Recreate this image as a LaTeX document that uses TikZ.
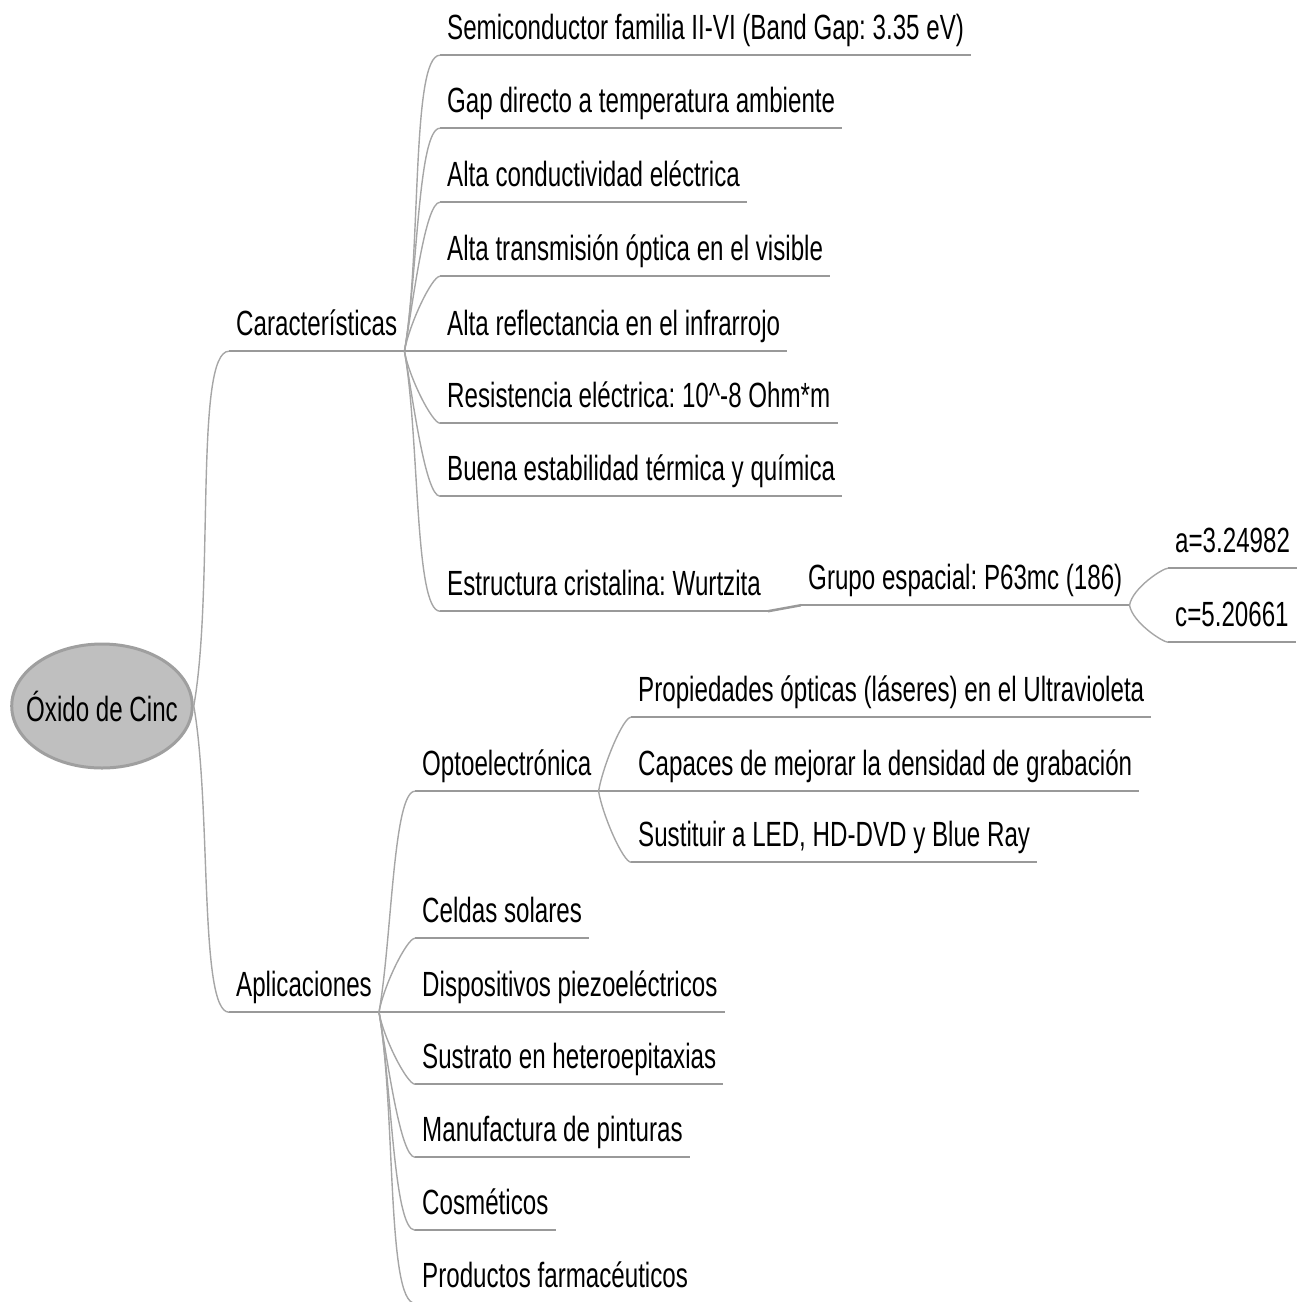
\documentclass[tikz,border=0pt]{standalone}
\usepackage{fontspec}
\setmainfont{Liberation Sans}[FakeStretch=0.69]
\usetikzlibrary{shapes.geometric}
\frenchspacing

\tikzset{
    item/.style={anchor=base west, inner xsep=7pt, inner ysep=0pt, text depth=16pt,
        font=\fontsize{35}{40}\selectfont},
    uline/.style={draw=gray!80, line width=2.5pt},
    branch/.style={draw=gray!70, line width=1.4pt},
    bup/.style={out=80, in=180, out looseness=0.85, in looseness=0.25},
    bdown/.style={out=-80, in=180, out looseness=0.85, in looseness=0.25},
}

\begin{document}
\begin{tikzpicture}[x=1pt, y=1pt]
    \useasboundingbox (0,0) rectangle (1308,-1301);

    % root
    \node[ellipse, draw=gray!75, line width=3pt, fill=gray!50, minimum width=180pt,
        minimum height=124pt, inner xsep=-12pt, inner ysep=0pt,
        font=\fontsize{35}{40}\selectfont]
        (root) at (102,-706) {Óxido de Cinc};

    % main branches
    \node[item] (car) at (229,-335) {Características};
    \node[item] (apl) at (229,-996) {Aplicaciones};

    \foreach \n/\y/\t in {
        c1/39/{Semiconductor familia II-VI (Band Gap: 3.35 eV)},
        c2/112/{Gap directo a temperatura ambiente},
        c3/186/{Alta conductividad eléctrica},
        c4/260/{Alta transmisión óptica en el visible},
        c5/335/{Alta reflectancia en el infrarrojo},
        c6/407/{Resistencia eléctrica: 10\textasciicircum{}-8 Ohm*m},
        c7/480/{Buena estabilidad térmica y química},
        c8/595/{Estructura cristalina: Wurtzita}}
        \node[item] (\n) at (440,-\y) {\t};

    \node[item] (grp) at (801,-589) {Grupo espacial: P63mc (186)};
    \node[item] (la) at (1168,-552) {a=3.24982};
    \node[item] (lc) at (1168,-626) {c=5.20661};

    \node[item] (opt) at (415,-775) {Optoelectrónica};
    \foreach \n/\y/\t in {
        o1/701/{Propiedades ópticas (láseres) en el Ultravioleta},
        o2/775/{Capaces de mejorar la densidad de grabación},
        o3/846/{Sustituir a LED, HD-DVD y Blue Ray}}
        \node[item] (\n) at (631,-\y) {\t};

    \foreach \n/\y/\t in {
        a1/922/{Celdas solares},
        a2/996/{Dispositivos piezoeléctricos},
        a3/1068/{Sustrato en heteroepitaxias},
        a4/1141/{Manufactura de pinturas},
        a5/1214/{Cosméticos},
        a6/1287/{Productos farmacéuticos}}
        \node[item] (\n) at (415,-\y) {\t};

    % underlines
    \foreach \n in {car,apl,c1,c2,c3,c4,c5,c6,c7,c8,grp,la,lc,opt,o1,o2,o3,a1,a2,a3,a4,a5,a6}
        \draw[uline] (\n.south west) -- (\n.south east);

    % connectors
    \draw[branch] (root.east) to[bup] (car.south west);
    \draw[branch] (root.east) to[bdown] (apl.south west);

    \foreach \n in {c1,c2,c3,c4}
        \draw[branch] (car.south east) to[bup] (\n.south west);
    \draw[uline] (car.south east) -- (c5.south west);
    \foreach \n in {c6,c7,c8}
        \draw[branch] (car.south east) to[bdown] (\n.south west);

    \draw[uline] (c8.south east) -- (grp.south west);
    \draw[branch] (grp.south east) to[bup] (la.south west);
    \draw[branch] (grp.south east) to[bdown] (lc.south west);

    \foreach \n in {opt,a1}
        \draw[branch] (apl.south east) to[bup] (\n.south west);
    \draw[uline] (apl.south east) -- (a2.south west);
    \foreach \n in {a3,a4,a5,a6}
        \draw[branch] (apl.south east) to[bdown] (\n.south west);

    \draw[branch] (opt.south east) to[bup] (o1.south west);
    \draw[uline] (opt.south east) -- (o2.south west);
    \draw[branch] (opt.south east) to[bdown] (o3.south west);
\end{tikzpicture}
\end{document}
